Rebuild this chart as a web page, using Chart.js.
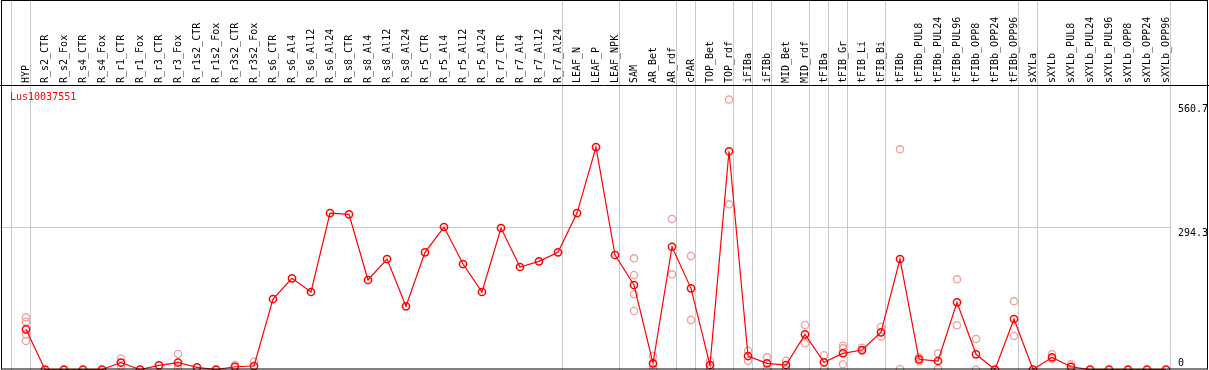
<!DOCTYPE html>
<html>
<head>
<meta charset="utf-8">
<title>Lus10037551</title>
<script src="https://cdn.jsdelivr.net/npm/chart.js@4/dist/chart.umd.min.js"></script>
<style>
    html, body { margin: 0; padding: 0; background: #fff; }
    #wrap { width: 1209px; height: 370px; }
</style>
</head>
<body>
<div id="wrap"><canvas id="chart" width="1209" height="370"></canvas></div>
<script>
const geneName = 'Lus10037551';

const categories = [
    'HYP', 'R_s2_CTR', 'R_s2_Fox', 'R_s4_CTR', 'R_s4_Fox', 'R_r1_CTR', 'R_r1_Fox', 'R_r3_CTR', 'R_r3_Fox',
    'R_r1s2_CTR', 'R_r1s2_Fox', 'R_r3s2_CTR', 'R_r3s2_Fox', 'R_s6_CTR', 'R_s6_Al4', 'R_s6_Al12', 'R_s6_Al24',
    'R_s8_CTR', 'R_s8_Al4', 'R_s8_Al12', 'R_s8_Al24', 'R_r5_CTR', 'R_r5_Al4', 'R_r5_Al12', 'R_r5_Al24',
    'R_r7_CTR', 'R_r7_Al4', 'R_r7_Al12', 'R_r7_Al24', 'LEAF_N', 'LEAF_P', 'LEAF_NPK', 'SAM', 'AR_Bet', 'AR_rdf',
    'cPAR', 'TOP_Bet', 'TOP_rdf', 'iFIBa', 'iFIBb', 'MID_Bet', 'MID_rdf', 'tFIBa', 'tFIB_Gr', 'tFIB_Li', 'tFIB_Bi',
    'tFIBb', 'tFIBb_PUL8', 'tFIBb_PUL24', 'tFIBb_PUL96', 'tFIBb_OPP8', 'tFIBb_OPP24', 'tFIBb_OPP96',
    'sXYLa', 'sXYLb', 'sXYLb_PUL8', 'sXYLb_PUL24', 'sXYLb_PUL96', 'sXYLb_OPP8', 'sXYLb_OPP24', 'sXYLb_OPP96'
];

// mean expression per sample
const meanValues = [
    83.5, 0, 0, 0, 0, 14.5, 0, 8.7, 14.5,
    4.6, 0, 5.8, 7.3, 146.4, 189.4, 161, 325,
    322.3, 185.9, 229.5, 131.3, 243.4, 296, 219.1, 161,
    293.9, 212.9, 224.7, 243.4, 325, 462.1, 237.8, 175.5, 12.9, 255,
    168.6, 9.3, 453.4, 28, 12.9, 9.3, 73.1, 15, 33.6, 40.5, 77.3,
    229.5, 21.2, 17.7, 139.6, 31.6, 0, 104.9,
    0, 25.3, 5.8, 0, 0, 0, 0, 0
];

// individual replicates (faint circles), empty where hidden behind the mean
const replicateValues = [
    [108.4, 99.3, 73.1, 59.2], [], [], [], [], [22.8, 6.6, 14], [], [], [32.2, 2.5, 9],
    [], [], [9.3], [16.2], [], [], [], [],
    [], [], [], [], [], [], [], [],
    [], [], [], [], [], [], [], [230.9, 196.3, 156.2, 121.5], [28, 1, 10], [312.6, 197.7],
    [235.7, 102.8], [17.7, 1], [560.7, 343.1], [39, 17.7], [25.3, 0.5], [18.3, 0.3], [92.4, 54.4], [29.5, 0.5],
    [49.4, 44, 10.8], [45.3, 38.4], [88.3, 68.1],
    [457.3, 1], [25.3, 17], [33.6, 1], [187.3, 91.8], [63.3, 0], [], [141.6, 69.6],
    [], [31.6, 21.2], [10.8, 1], [], [], [], [], []
];

// last sample index of each tissue group (separator drawn just after it)
const groupEnds = [-1, 0, 28, 31, 34, 35, 37, 38, 39, 41, 42, 43, 45, 52, 53, 60];
const yTickValues = [0, 294.3, 560.7];

const monoFont = '10px "DejaVu Sans Mono", monospace';

const meanPoints = meanValues.map((v, i) => ({ x: i, y: v }));
const replicatePoints = [];
replicateValues.forEach((reps, i) => {
    reps.forEach(v => replicatePoints.push({ x: i, y: v }));
});

// frame, group separators, gene name and value labels
const decorPlugin = {
    id: 'decor',
    beforeDatasetsDraw(chart) {
        const ctx = chart.ctx;
        const xs = chart.scales.x;
        ctx.save();
        ctx.strokeStyle = '#c8c8c8';
        ctx.lineWidth = 1;
        groupEnds.forEach(end => {
            const px = Math.round(xs.getPixelForValue(end + 0.23)) + 0.5;
            ctx.beginPath();
            ctx.moveTo(px, 0);
            ctx.lineTo(px, chart.height);
            ctx.stroke();
        });
        ctx.restore();
    },
    afterDraw(chart) {
        const ctx = chart.ctx;
        const area = chart.chartArea;
        const ys = chart.scales.y;
        ctx.save();
        ctx.strokeStyle = '#000';
        ctx.lineWidth = 1;
        ctx.strokeRect(1.5, 0.5, chart.width - 3, chart.height - 1.5);
        ctx.beginPath();
        ctx.moveTo(0, Math.round(area.top) + 0.5);
        ctx.lineTo(chart.width, Math.round(area.top) + 0.5);
        ctx.stroke();

        ctx.font = monoFont;
        ctx.textBaseline = 'alphabetic';
        ctx.fillStyle = '#ff0000';
        ctx.fillText(geneName, 10, area.top + 15);

        ctx.fillStyle = '#000';
        yTickValues.forEach(v => {
            let y = ys.getPixelForValue(v) + 8;
            y = Math.max(area.top + 27, Math.min(area.bottom - 4, y));
            ctx.fillText(String(v), area.right + 8, y);
        });
        ctx.restore();
    }
};

new Chart(document.getElementById('chart'), {
    type: 'line',
    data: {
        datasets: [
            {
                label: 'mean',
                data: meanPoints,
                borderColor: '#ff0000',
                borderWidth: 1.2,
                pointStyle: 'circle',
                pointRadius: 3.6,
                pointBorderWidth: 1.5,
                pointBorderColor: '#ff0000',
                pointBackgroundColor: 'rgba(0,0,0,0)',
                tension: 0
            },
            {
                label: 'replicates',
                data: replicatePoints,
                showLine: false,
                pointStyle: 'circle',
                pointRadius: 3.6,
                pointBorderWidth: 1.3,
                pointBorderColor: '#eea0a0',
                pointBackgroundColor: 'rgba(0,0,0,0)'
            }
        ]
    },
    options: {
        responsive: false,
        animation: false,
        devicePixelRatio: 1,
        layout: { padding: 0, autoPadding: false },
        plugins: {
            legend: { display: false },
            tooltip: { enabled: false },
            title: { display: false }
        },
        scales: {
            x: {
                type: 'linear',
                position: 'top',
                min: -1.368,
                max: 60.21,
                grid: { display: false, drawTicks: false, tickLength: 0 },
                border: { display: false },
                afterBuildTicks: scale => {
                    scale.ticks = categories.map((c, i) => ({ value: i }));
                },
                afterFit: scale => {
                    scale.height = 85;
                    scale.paddingLeft = 0;
                    scale.paddingRight = 0;
                },
                ticks: {
                    autoSkip: false,
                    minRotation: 90,
                    maxRotation: 90,
                    padding: 2,
                    labelOffset: 12,
                    color: '#000',
                    font: { family: '"DejaVu Sans Mono", monospace', size: 10 },
                    callback: value => categories[value]
                }
            },
            y: {
                type: 'linear',
                position: 'right',
                min: -1,
                max: 591,
                afterBuildTicks: scale => {
                    scale.ticks = yTickValues.map(v => ({ value: v }));
                },
                afterFit: scale => { scale.width = 39; },
                border: { display: false },
                grid: {
                    drawTicks: false,
                    color: c => (c.tick && c.tick.value === 294.3 ? '#c8c8c8' : 'rgba(0,0,0,0)')
                },
                ticks: { display: false }
            }
        }
    },
    plugins: [decorPlugin]
});
</script>
</body>
</html>
